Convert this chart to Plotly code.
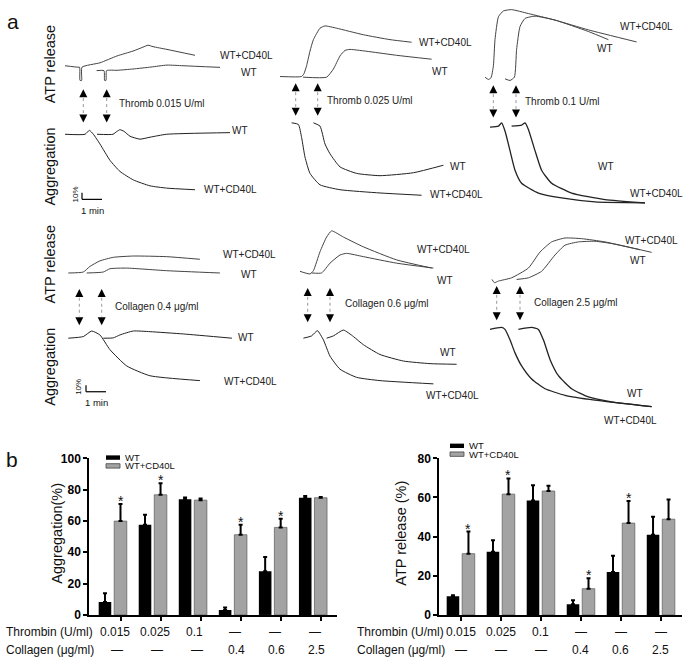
import plotly.graph_objects as go

W, H = 685, 666
FONT = "Arial, 'Liberation Sans', sans-serif"

# ---------------- panel b data ----------------
GROUPS = [0, 1, 2, 3, 4, 5]
THROMBIN_LABELS = ["0.015", "0.025", "0.1", "—", "—", "—"]
COLLAGEN_LABELS = ["—", "—", "—", "0.4", "0.6", "2.5"]

AGG_WT = [8.3, 57.6, 73.8, 3.1, 27.9, 74.8]
AGG_WT_ERR = [5.5, 6.4, 1.2, 1.7, 9.1, 1.2]
AGG_CD40L = [59.9, 76.7, 73.3, 51.2, 55.9, 74.8]
AGG_CD40L_ERR = [11.0, 7.4, 1.1, 6.4, 5.5, 0.5]
AGG_SIG = [True, True, False, True, True, False]

ATP_WT = [9.5, 32.3, 58.4, 5.5, 21.9, 41.0]
ATP_WT_ERR = [0.6, 5.8, 7.9, 2.0, 8.3, 9.2]
ATP_CD40L = [31.3, 61.7, 63.3, 13.4, 46.9, 48.9]
ATP_CD40L_ERR = [11.3, 8.0, 2.7, 5.3, 11.3, 10.0]
ATP_SIG = [True, True, False, True, True, False]

# ---------------- panel a traces: (time min, signal %) ----------------
T1_ATP_CD40L = [(0, 1.5), (0.65, -0.75), (0.73, -0.75), (0.75, -21), (0.83, -21), (0.85, -0.75), (1.75, 6), (2.6, 16.5), (3.4, 24), (3.9, 30), (4.15, 33), (4.4, 30.75), (5.1, 26.5), (6.5, 17.5)]
T1_ATP_WT = [(1.58, -6), (1.95, -6), (1.98, -21), (2.05, -21), (2.08, -6), (2.6, -5.5), (3.4, -3.5), (4.3, -0.5), (5.1, 2.5), (5.9, 1.5), (7.75, -1)]
T1_AGG_CD40L = [(0, 0), (1.0, 0), (1.22, -6), (1.42, 0), (1.75, 15), (2.25, 40), (2.75, 57), (3.42, 70), (4.25, 79), (5.08, 82.5), (6.5, 85)]
T1_AGG_WT = [(1.6, 0), (2.4, 0), (2.6, -4.5), (2.75, -7), (2.95, -4.5), (3.25, 3), (3.75, 7.5), (4.25, 4.5), (5.08, 0), (8.25, -2.5)]

T2_ATP_CD40L = [(0, 0), (1.08, 0), (1.2, 4.5), (1.33, 16.5), (1.5, 39), (1.67, 56.5), (2.0, 74), (2.25, 77.5), (2.83, 74), (4.17, 64), (5.5, 56.5), (6.58, 52.5)]
T2_ATP_WT = [(1.15, -1), (2.33, -1), (2.67, 11.5), (3.0, 31.5), (3.25, 40), (3.5, 41.5), (4.5, 38), (5.83, 32.5), (7.58, 26.5)]
T2_AGG_CD40L = [(0.58, 0), (0.92, 2.5), (1.08, 22.5), (1.25, 52.5), (1.5, 77.5), (2.0, 95), (3.0, 102.5), (5.0, 107.5), (7.08, 111)]
T2_AGG_WT = [(1.67, 0), (2.0, 5), (2.25, 32.5), (2.5, 47.5), (3.0, 67.5), (3.83, 77.5), (5.0, 81), (6.67, 76.5), (8.17, 65)]

T3_ATP_CD40L = [(0, 0), (0.17, -3.5), (0.3, -1), (0.42, 17.5), (0.5, 57.5), (0.67, 92.5), (0.92, 101.5), (1.33, 103.5), (2.17, 97.5), (3.5, 87.5), (5.17, 72.5), (7.58, 54)]
T3_ATP_WT = [(1.0, -2.5), (1.25, -5), (1.47, 0), (1.58, 42.5), (1.75, 77.5), (2.0, 90), (2.5, 93.5), (3.5, 87.5), (5.17, 70), (6.17, 57.5)]
T3_AGG_CD40L = [(0.25, 1.5), (0.67, 0), (0.83, -5), (1.0, 7.5), (1.25, 37.5), (1.5, 67.5), (1.83, 87.5), (2.67, 102.5), (3.83, 110), (5.5, 116), (8.0, 117.5)]
T3_AGG_WT = [(1.33, 0), (1.83, -1.5), (2.0, -5), (2.17, 5), (2.5, 37.5), (2.83, 67.5), (3.33, 87.5), (4.33, 102.5), (6.0, 112.5), (8.0, 117.5)]

C1_ATP_CD40L = [(0, 0), (0.75, 1.5), (1.08, 10), (1.58, 18.5), (2.25, 24), (3.25, 26), (4.92, 25), (6.58, 21)]
C1_ATP_WT = [(0.92, 0), (1.75, 1.5), (2.08, 6.5), (2.92, 7.5), (4.92, 3.5), (7.58, 0)]
C1_AGG_CD40L = [(0, 0), (0.75, -2.5), (1.17, -11), (1.58, -5), (2.08, 17.5), (2.92, 42.5), (4.08, 57.5), (6.58, 65)]
C1_AGG_WT = [(1.75, 0), (2.25, -0.5), (2.58, -5), (3.25, -11), (4.08, -10), (5.75, -6.5), (8.18, 0)]

C2_ATP_CD40L = [(0, 0), (0.5, -4), (0.67, 1), (1.0, 30), (1.33, 52.5), (1.58, 62), (2.17, 52.5), (3.17, 37.5), (4.83, 17.5), (6.58, 5)]
C2_ATP_WT = [(0.58, -2.5), (1.08, -2.5), (1.5, 12.5), (2.0, 25), (2.33, 27.5), (3.17, 22.5), (4.83, 12.5), (6.67, 5)]
C2_AGG_CD40L = [(0.17, 0), (0.58, -3.5), (0.87, -11.5), (1.17, 2.5), (1.5, 27.5), (2.0, 47.5), (2.83, 60), (4.0, 65), (6.67, 70)]
C2_AGG_WT = [(1.33, 0), (1.67, -3.5), (2.17, -12.5), (2.67, -2.5), (3.17, 10), (4.0, 25), (5.17, 35), (6.5, 39), (7.83, 40)]

C3_ATP_CD40L = [(0.1, 0), (0.22, -5), (0.42, -2.5), (1.08, 2.5), (1.92, 17.5), (2.5, 42), (3.08, 57.5), (3.75, 63.5), (4.58, 62.5), (5.75, 57.5), (8.08, 41.5)]
C3_ATP_WT = [(1.33, 0), (1.92, 2.5), (2.58, 12.5), (3.25, 37.5), (3.75, 52.5), (4.42, 57.5), (5.25, 58.5), (6.08, 55), (7.5, 45.5)]
C3_AGG_CD40L = [(0, 0), (0.58, -3), (0.75, 0), (1.0, 16), (1.25, 36), (1.58, 56), (2.08, 76), (2.75, 91), (3.75, 101), (5.25, 108.5), (8.08, 118.5)]
C3_AGG_WT = [(1.42, 0), (2.08, -3), (2.42, 0), (2.67, 16), (3.0, 46), (3.42, 71), (4.08, 91), (4.92, 103.5), (6.08, 111), (8.08, 118.5)]

# ---------------- layout constants ----------------
PX_PER_MIN = 20.0
PX_PER_PCT = 2.0 / 3.0
# panel: (x origin, ATP baseline, Agg baseline, traces..., line width for agg)
PANELS = [
    (65, 61, 130, T1_ATP_CD40L, T1_ATP_WT, T1_AGG_CD40L, T1_AGG_WT, 1.0),
    (280, 71, 118.3, T2_ATP_CD40L, T2_ATP_WT, T2_AGG_CD40L, T2_AGG_WT, 1.0),
    (485, 71.7, 121.7, T3_ATP_CD40L, T3_ATP_WT, T3_AGG_CD40L, T3_AGG_WT, 1.3),
    (68.3, 271.7, 338.3, C1_ATP_CD40L, C1_ATP_WT, C1_AGG_CD40L, C1_AGG_WT, 1.0),
    (300, 270, 338.3, C2_ATP_CD40L, C2_ATP_WT, C2_AGG_CD40L, C2_AGG_WT, 1.0),
    (490, 278.3, 329.3, C3_ATP_CD40L, C3_ATP_WT, C3_AGG_CD40L, C3_AGG_WT, 1.3),
]
TRACE_LABELS = [
    ("WT+CD40L", 218, 50, "left"), ("WT", 249, 67, "center"),
    ("WT", 240, 126, "center"), ("WT+CD40L", 202, 186, "left"),
    ("WT+CD40L", 417, 36, "left"), ("WT", 439.5, 66, "center"),
    ("WT", 458, 163, "center"), ("WT+CD40L", 428, 192, "left"),
    ("WT+CD40L", 618, 20, "left"), ("WT", 604.5, 42, "center"),
    ("WT", 605.5, 163, "center"), ("WT+CD40L", 628, 191, "left"),
    ("WT+CD40L", 221, 253, "left"), ("WT", 248.5, 273, "center"),
    ("WT", 245.5, 338, "center"), ("WT+CD40L", 222, 383, "left"),
    ("WT+CD40L", 415, 248, "left"), ("WT", 444.5, 279, "center"),
    ("WT", 447.5, 353, "center"), ("WT+CD40L", 424, 397, "left"),
    ("WT+CD40L", 623, 239, "left"), ("WT", 637.5, 259, "center"),
    ("WT", 634.5, 395, "center"), ("WT+CD40L", 602, 422, "left"),
]
AGONIST_LABELS = [
    ("Thromb 0.015 U/ml", 117, 99), ("Thromb 0.025 U/ml", 325, 96), ("Thromb 0.1 U/ml", 523, 97),
    ("Collagen 0.4 μg/ml", 113, 306), ("Collagen 0.6 μg/ml", 343, 303), ("Collagen 2.5 μg/ml", 532, 302),
]
ARROWS = [
    (83.3, 84, 118), (106.7, 84, 118), (295.7, 78, 111), (317.7, 78, 111), (493.3, 80, 113), (516, 80, 113),
    (79.3, 288, 325), (101.7, 288, 325), (307.7, 287, 322), (330, 287, 322), (496.7, 285, 320), (520, 285, 320),
]
ROW_TITLES = [("ATP release", 50, 58.5), ("Aggregation", 50, 163), ("ATP release", 50, 263), ("Aggregation", 50, 367.5)]
SCALE_BARS = [(82, 196.5), (86, 393)]

fig = go.Figure()

OV = dict(xaxis="x3", yaxis="y3")


def add_trace(pts, x0, base, sign, width, color):
    xs = [x0 + t * PX_PER_MIN for t, v in pts]
    ys = [base - sign * v * PX_PER_PCT for t, v in pts]
    fig.add_trace(go.Scatter(x=xs, y=ys, mode="lines", showlegend=False, hoverinfo="skip",
                             line=dict(color=color, width=width, shape="spline", smoothing=0.5), **OV))


for x0, atp_b, agg_b, a_cd, a_wt, g_cd, g_wt, gw in PANELS:
    add_trace(a_cd, x0, atp_b, 1, 1.0, "#444")
    add_trace(a_wt, x0, atp_b, 1, 1.0, "#444")
    add_trace(g_cd, x0, agg_b, -1, gw, "#222")
    add_trace(g_wt, x0, agg_b, -1, gw, "#222")

# arrows
fig.add_trace(go.Scatter(x=[a[0] for a in ARROWS], y=[a[1] for a in ARROWS], mode="markers",
                         marker=dict(symbol="arrow-up", size=8, color="black", line=dict(width=0)),
                         showlegend=False, hoverinfo="skip", **OV))
fig.add_trace(go.Scatter(x=[a[0] for a in ARROWS], y=[a[2] for a in ARROWS], mode="markers",
                         marker=dict(symbol="arrow-down", size=8, color="black", line=dict(width=0)),
                         showlegend=False, hoverinfo="skip", **OV))
sx, sy = [], []
for x, up, dn in ARROWS:
    sx += [x, x, None]
    sy += [up + 9, dn - 9, None]
fig.add_trace(go.Scatter(x=sx, y=sy, mode="lines", line=dict(color="#999", width=1, dash="dot"),
                         showlegend=False, hoverinfo="skip", **OV))

# ---------------- bar charts ----------------
err = lambda a: dict(type="data", array=a, arrayminus=[0] * len(a), symmetric=False,
                     color="black", thickness=2, width=2)
fig.add_trace(go.Bar(x=GROUPS, y=AGG_WT, marker=dict(color="black", line=dict(width=0)),
                     error_y=err(AGG_WT_ERR), showlegend=False, xaxis="x", yaxis="y"))
fig.add_trace(go.Bar(x=GROUPS, y=AGG_CD40L, marker=dict(color="#a3a3a3", line=dict(color="#666", width=0.8)),
                     error_y=err(AGG_CD40L_ERR), showlegend=False, xaxis="x", yaxis="y"))
fig.add_trace(go.Bar(x=GROUPS, y=ATP_WT, marker=dict(color="black", line=dict(width=0)),
                     error_y=err(ATP_WT_ERR), showlegend=False, xaxis="x2", yaxis="y2"))
fig.add_trace(go.Bar(x=GROUPS, y=ATP_CD40L, marker=dict(color="#a3a3a3", line=dict(color="#666", width=0.8)),
                     error_y=err(ATP_CD40L_ERR), showlegend=False, xaxis="x2", yaxis="y2"))

ann = []
shapes = []


def txt(text, x, y, size=10, xanchor="center", xref="x3", yref="y3", angle=0, color="#111",
        yanchor="middle", yshift=0, height=None):
    d = dict(text=text, x=x, y=y, xref=xref, yref=yref, xanchor=xanchor, yanchor=yanchor,
             showarrow=False, textangle=angle, yshift=yshift,
             font=dict(family=FONT, size=size, color=color))
    if height is not None:
        d["height"] = height
    ann.append(d)


for t, x, y, a in TRACE_LABELS:
    txt(t, x, y, 10, a, color="#222")
for t, x, y in AGONIST_LABELS:
    txt(t, x, y, 10, "left", color="#222")
for t, x, y in ROW_TITLES:
    txt(t, x, y, 14.5, angle=-90)
txt("a", 13, 15, 21)
txt("b", 12, 462, 21)

for bx, by in SCALE_BARS:
    shapes.append(dict(type="line", xref="x3", yref="y3", x0=bx, x1=bx, y0=by, y1=by - 10 * PX_PER_PCT,
                       line=dict(color="black", width=1.2)))
    shapes.append(dict(type="line", xref="x3", yref="y3", x0=bx, x1=bx + PX_PER_MIN, y0=by, y1=by,
                       line=dict(color="black", width=1.2)))
    txt("10%", bx - 7, by - 5, 8, angle=-90)
    txt("1 min", bx + 10, by + 11, 9.5)

# bar chart annotations
GRAY_OFF = 0.194
for xr, yr, wt, wte, cd, cde, sig in [("x", "y", AGG_WT, AGG_WT_ERR, AGG_CD40L, AGG_CD40L_ERR, AGG_SIG),
                                       ("x2", "y2", ATP_WT, ATP_WT_ERR, ATP_CD40L, ATP_CD40L_ERR, ATP_SIG)]:
    for i, g in enumerate(GROUPS):
        if sig[i]:
            txt("*", g + GRAY_OFF, cd[i] + cde[i], 14, xref=xr, yref=yr, yshift=3)
        txt(THROMBIN_LABELS[i], g + (0.05 if xr == "x" else 0), 638, 12, xref=xr)
        txt(COLLAGEN_LABELS[i], g + (0.1 if xr == "x" else 0), 657, 12, xref=xr)

txt("Thrombin (U/ml)", 4, 638, 12, "left")
txt("Collagen (μg/ml)", 4, 657, 12, "left")
txt("Thrombin (U/ml)", 355, 638, 12, "left")
txt("Collagen (μg/ml)", 355, 657, 12, "left")
txt("Aggregation(%)", 57, 538, 14.5, angle=-90)
txt("ATP release (%)", 401.5, 537.5, 14.5, angle=-90)

# legends
for lx, ly in [(106, 458), (450, 446)]:
    shapes.append(dict(type="rect", xref="x3", yref="y3", x0=lx, x1=lx + 14, y0=ly, y1=ly + 4.5,
                       fillcolor="black", line=dict(width=0)))
    shapes.append(dict(type="rect", xref="x3", yref="y3", x0=lx, x1=lx + 14, y0=ly + 8.5, y1=ly + 13,
                       fillcolor="#a3a3a3", line=dict(color="#444", width=0.8)))
    txt("WT", lx + 17, ly + 2.3, 9.5, "left", height=8.5)
    txt("WT+CD40L", lx + 17, ly + 10.8, 9.5, "left", height=8.5)

axis_common = dict(showline=True, linewidth=2, linecolor="black", showgrid=False, zeroline=False,
                   ticks="outside", ticklen=4, tickwidth=2, tickcolor="black", fixedrange=True)

fig.update_layout(
    width=W, height=H, margin=dict(l=0, r=0, t=0, b=0),
    paper_bgcolor="white", plot_bgcolor="rgba(0,0,0,0)",
    barmode="group", bargap=0.225, bargroupgap=0.19,
    font=dict(family=FONT, color="black"),
    xaxis=dict(domain=[89.3 / W, 337 / W], range=[-0.585, 5.6], tickvals=[g + GRAY_OFF for g in GROUPS],
               showticklabels=False, anchor="y", **axis_common),
    yaxis=dict(domain=[45 / H, 205 / H], range=[0, 100], tickvals=[0, 20, 40, 60, 80, 100],
               ticktext=["<b>%d</b>" % v for v in [0, 20, 40, 60, 80, 100]],
               tickfont=dict(size=12, family=FONT), anchor="x", **axis_common),
    xaxis2=dict(domain=[439.3 / W, 682 / W], range=[-0.535, 5.53], tickvals=GROUPS,
                showticklabels=False, anchor="y2", **axis_common),
    yaxis2=dict(domain=[45 / H, 205 / H], range=[0, 80], tickvals=[0, 20, 40, 60, 80],
                ticktext=["<b>%d</b>" % v for v in [0, 20, 40, 60, 80]],
                tickfont=dict(size=12, family=FONT), anchor="x2", **axis_common),
    xaxis3=dict(domain=[0, 1], range=[0, W], visible=False, anchor="y3", fixedrange=True),
    yaxis3=dict(domain=[0, 1], range=[H, 0], visible=False, anchor="x3", fixedrange=True),
    annotations=ann, shapes=shapes,
)

fig.write_html("out.html", config={"displayModeBar": False},
               post_script="document.body.style.margin='0';document.body.style.overflow='hidden';")
